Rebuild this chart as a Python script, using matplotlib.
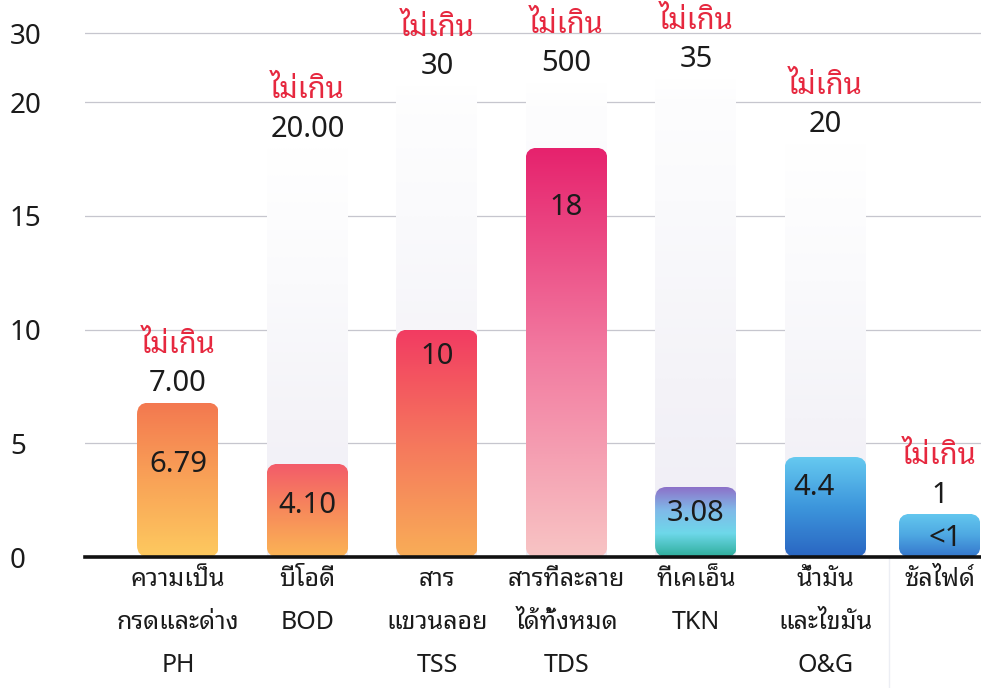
import numpy as np
import matplotlib
matplotlib.use('Agg')
import matplotlib.pyplot as plt
from matplotlib.patches import FancyBboxPatch
from matplotlib.colors import LinearSegmentedColormap
from matplotlib.lines import Line2D

plt.rcParams['font.family'] = ['Noto Sans', 'Noto Sans Thai Looped', 'DejaVu Sans']

# data
categories = ['ความเป็น\nกรดและด่าง\nPH', 'บีโอดี\nBOD', 'สาร\nแขวนลอย\nTSS',
              'สารที่ละลาย\nได้ทั้งหมด\nTDS', 'ทีเคเอ็น\nTKN', 'น้ำมัน\nและไขมัน\nO&G', 'ซัลไฟด์']
values = [6.79, 4.10, 10, 18, 3.08, 4.4, 1.9]
value_labels = ['6.79', '4.10', '10', '18', '3.08', '4.4', '<1']
limit_labels = ['7.00', '20.00', '30', '500', '35', '20', '1']
limit_bar = [0, 18.0, 22.5, 22.9, 23.5, 18.2, 0]   # height of the faint background columns
yticks = [0, 5, 10, 15, 20, 30]

# gradient stops per bar, bottom -> top
bar_colors = [
    ['#fdc95f', '#f9a257', '#f37850'],
    ['#fbb455', '#f7895b', '#f35a6a'],
    ['#f9ad57', '#f5775d', '#f23b62'],
    ['#f8c4c4', '#f27aa0', '#e6226d'],
    ['#2fae9c', '#6ed8ea', '#80b9e8', '#8d6fc8'],
    ['#2a66c2', '#3d96dc', '#66caf0'],
    ['#3577cc', '#4ea8e2', '#64c8ef'],
]
red = '#e6283f'
ink = '#1b1b1b'

# axis is squeezed above 20 (20 -> 30 takes much less room)
def fwd(y):
    y = np.asarray(y, dtype=float)
    return np.where(y <= 20, y, 20 + (y - 20) * 0.304)

def inv(u):
    u = np.asarray(u, dtype=float)
    return np.where(u <= 20, u, 20 + (u - 20) / 0.304)

fig = plt.figure(figsize=(9.81, 6.88), dpi=100)
ax = fig.add_axes([85 / 981, 131 / 688, 896 / 981, 557 / 688])
ax.set_yscale('function', functions=(fwd, inv))

x = np.arange(len(values), dtype=float)
x[-1] = 5.88
w = 0.633
inner_drop = [62, 42, 27, 60, 27, 31, 25]   # px below bar top for the value text
inner_dx = [0, 0, 0, 0, 0, -8, 4]

grid = np.linspace(0, 1, 256).reshape(-1, 1)
bg_cmap = LinearSegmentedColormap.from_list('bg', ['#efedf5', '#f4f3f8', '#fafafc', '#ffffff'])

for t in yticks[1:]:
    ax.axhline(t, color='#c6c6ce', lw=0.9, zorder=0.5)

for i, (xc, v) in enumerate(zip(x, values)):
    if limit_bar[i] > 0:
        ax.imshow(grid, cmap=bg_cmap, extent=[xc - w / 2, xc + w / 2, 0, limit_bar[i]],
                  origin='lower', aspect='auto', zorder=1, interpolation='bilinear')
    patch = FancyBboxPatch((xc - w / 2, 0), w, v, boxstyle='round,pad=0,rounding_size=0.09',
                           mutation_aspect=5.7, facecolor='none', edgecolor='none', zorder=2)
    ax.add_patch(patch)
    cmap = LinearSegmentedColormap.from_list(f'bar{i}', bar_colors[i])
    im = ax.imshow(grid, cmap=cmap, extent=[xc - w / 2, xc + w / 2, 0, v],
                   origin='lower', aspect='auto', zorder=2, interpolation='bilinear')
    im.set_clip_path(patch)

    ax.annotate(value_labels[i], (xc, v), xytext=(inner_dx[i], -inner_drop[i] * 0.72),
                textcoords='offset points', ha='center', va='center',
                fontsize=21, color=ink, zorder=5)

    top = max(v, limit_bar[i])
    ax.annotate(limit_labels[i], (xc, top), xytext=(0, 13.5), textcoords='offset points',
                ha='center', va='center', fontsize=21, color=ink, zorder=5)
    ax.annotate('ไม่เกิน', (xc, top), xytext=(0, 41), textcoords='offset points',
                ha='center', va='center', fontsize=21, color=red, zorder=5)

ax.axhline(0, color='#111111', lw=2.6, zorder=4, clip_on=False)

ax.set_xlim(-0.718, 6.2)
ax.set_ylim(0, 34.8)
ax.set_yticks(yticks)
ax.set_yticklabels([str(t) for t in yticks], fontsize=20, color=ink, ha='left')
ax.set_xticks(x)
ax.set_xticklabels(categories, fontsize=18, color=ink, linespacing=1.95)
ax.tick_params(axis='y', length=0, pad=54)
ax.tick_params(axis='x', length=0, pad=7)
for s in ax.spines.values():
    s.set_visible(False)

# faint fold line of the scanned page
fig.add_artist(Line2D([889 / 981] * 2, [0, 1], transform=fig.transFigure,
                      color='#eceef4', lw=1, zorder=0))

fig.savefig('out.png', dpi=100, facecolor='white')
